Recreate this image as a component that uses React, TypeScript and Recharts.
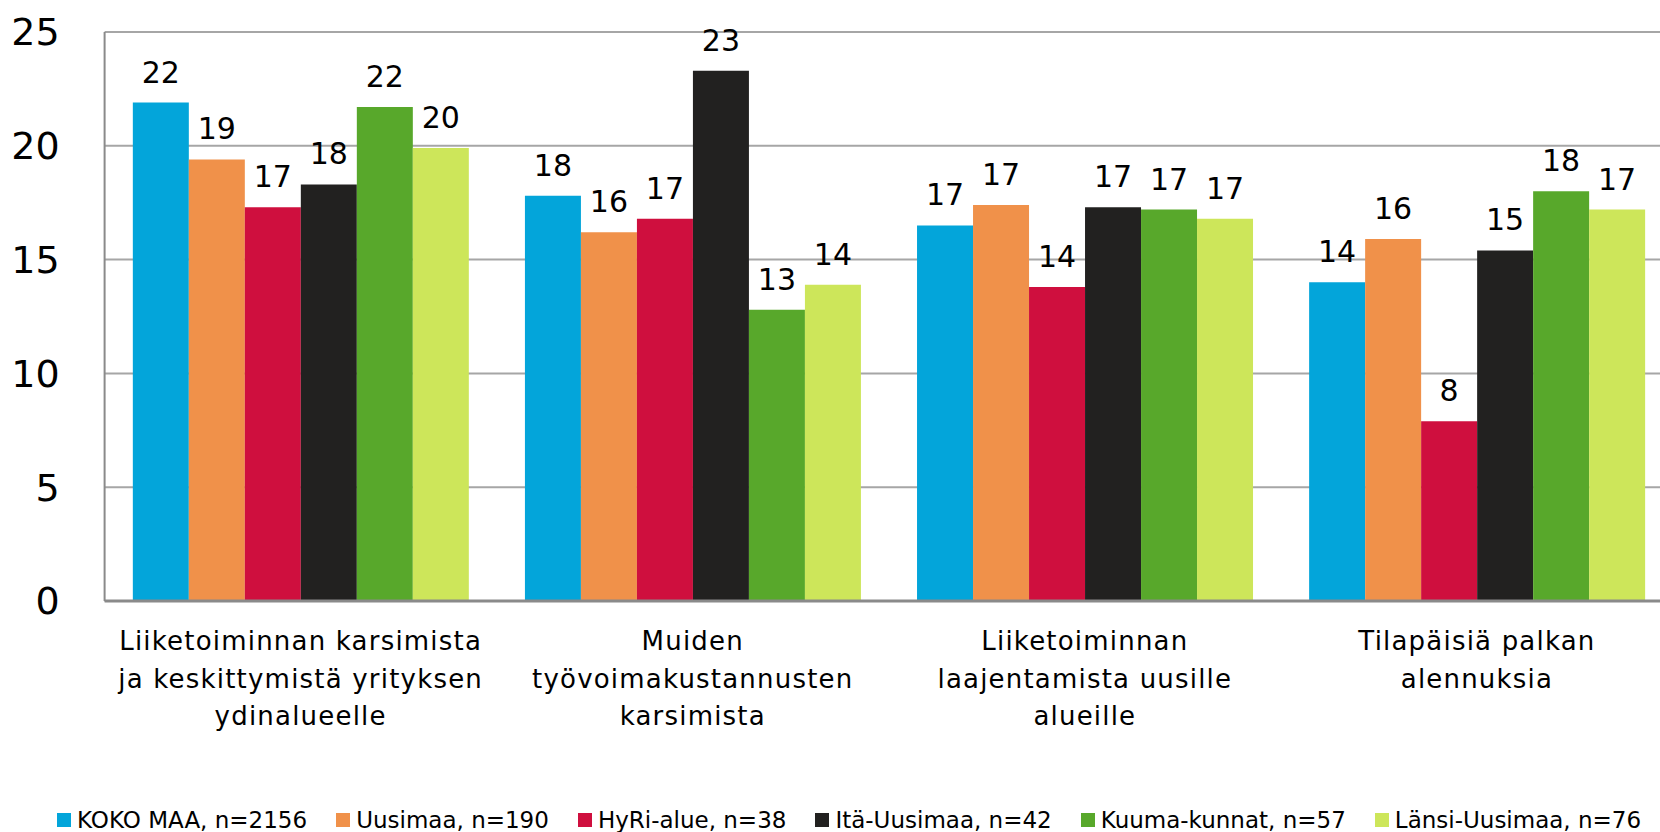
import { Bar, BarChart, CartesianGrid, LabelList, XAxis, YAxis } from "recharts";

const categories = [
  ["Liiketoiminnan karsimista", "ja keskittymistä yrityksen", "ydinalueelle"],
  ["Muiden", "työvoimakustannusten", "karsimista"],
  ["Liiketoiminnan", "laajentamista uusille", "alueille"],
  ["Tilapäisiä palkan", "alennuksia"],
];

const seriesNames = [
  "KOKO MAA, n=2156",
  "Uusimaa, n=190",
  "HyRi-alue, n=38",
  "Itä-Uusimaa, n=42",
  "Kuuma-kunnat, n=57",
  "Länsi-Uusimaa, n=76",
];

const kokoMaa = [21.9, 17.8, 16.5, 14.0];
const uusimaa = [19.4, 16.2, 17.4, 15.9];
const hyri = [17.3, 16.8, 13.8, 7.9];
const itaUusimaa = [18.3, 23.3, 17.3, 15.4];
const kuumaKunnat = [21.7, 12.8, 17.2, 18.0];
const lansiUusimaa = [19.9, 13.9, 16.8, 17.2];

const yTicks = [0, 5, 10, 15, 20, 25];

const COLORS = ["#03a5da", "#f0914a", "#cf0f3e", "#222120", "#58a82b", "#cde65a"];

const seriesValues = [kokoMaa, uusimaa, hyri, itaUusimaa, kuumaKunnat, lansiUusimaa];
const keys = ["s0", "s1", "s2", "s3", "s4", "s5"];

const data = categories.map((lines, i) => {
  const row: Record<string, unknown> = { name: lines.join(" "), idx: i };
  seriesValues.forEach((vals, s) => {
    row[keys[s]] = vals[i];
  });
  return row;
});

const FONT = "'DejaVu Sans', sans-serif";

function CategoryTick(props: any) {
  const { x, y, payload } = props;
  const lines = categories[payload.index] ?? [String(payload.value)];
  return (
    <text
      x={x}
      y={y}
      textAnchor="middle"
      fill="#000"
      fontFamily={FONT}
      fontSize={26}
      style={{ letterSpacing: "1.2px" }}
    >
      {lines.map((line, i) => (
        <tspan key={i} x={x} dy={i === 0 ? 49 : 37.5}>
          {line}
        </tspan>
      ))}
    </text>
  );
}

export default function App() {
  return (
    <div
      style={{
        position: "fixed",
        left: 0,
        top: 0,
        width: 1660,
        height: 832,
        overflow: "hidden",
        background: "#fff",
      }}
    >
      <BarChart
        width={1673}
        height={832}
        data={data}
        margin={{ top: 32, right: 0, left: 0, bottom: 0 }}
        barCategoryGap="7.2%"
        barGap={0}
      >
        <CartesianGrid vertical={false} stroke="#a6a6a6" strokeWidth={2} />
        <XAxis
          dataKey="name"
          height={231}
          interval={0}
          tickLine={false}
          tickSize={0}
          tickMargin={0}
          axisLine={{ stroke: "#8a8a8a", strokeWidth: 3 }}
          tick={<CategoryTick />}
        />
        <YAxis
          width={104.6}
          domain={[0, 25]}
          ticks={yTicks}
          interval={0}
          tickLine={false}
          tickSize={0}
          tickMargin={45}
          axisLine={{ stroke: "#8a8a8a", strokeWidth: 2 }}
          tick={{ fill: "#000", fontSize: 38, fontFamily: FONT }}
        />
        {keys.map((k, s) => (
          <Bar
            key={k}
            dataKey={k}
            name={seriesNames[s]}
            fill={COLORS[s]}
            isAnimationActive={false}
          >
            <LabelList
              dataKey={k}
              position="top"
              offset={20}
              formatter={(v: any) => Math.round(Number(v))}
              style={{ fill: "#000", fontSize: 30, fontFamily: FONT }}
            />
          </Bar>
        ))}
      </BarChart>
      <div
        style={{
          position: "absolute",
          left: 57,
          top: 806,
          display: "flex",
          alignItems: "center",
          fontFamily: FONT,
          fontSize: 23,
          color: "#000",
          whiteSpace: "nowrap",
          lineHeight: "28px",
        }}
      >
        {seriesNames.map((n, s) => (
          <div
            key={n}
            style={{ display: "flex", alignItems: "center", marginRight: 29 }}
          >
            <span
              style={{
                display: "inline-block",
                width: 14,
                height: 14,
                background: COLORS[s],
                marginRight: 6,
              }}
            />
            <span>{n}</span>
          </div>
        ))}
      </div>
    </div>
  );
}
